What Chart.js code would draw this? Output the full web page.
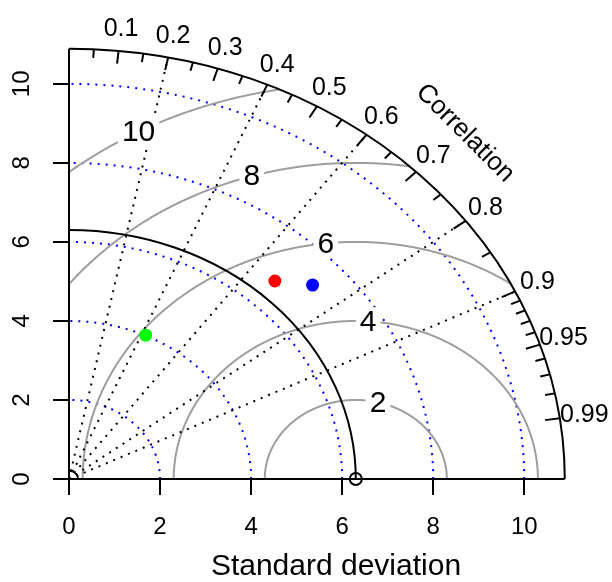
<!DOCTYPE html>
<html>
<head>
<meta charset="utf-8">
<script src="https://cdn.jsdelivr.net/npm/chart.js@4.4.0/dist/chart.umd.min.js"></script>
<style>
  html, body { margin: 0; padding: 0; background: #fff; }
</style>
</head>
<body>
<canvas id="taylor" width="612" height="582"></canvas>
<script>
// models compared against the reference: standard deviation + correlation
const modelSd = [4.01, 6.75, 7.26];
const modelCorr = [0.42, 0.67, 0.737];
const modelColors = ['#00ff00', '#ff0000', '#0000ff'];
const refSd = 6.30;

// axis / grid values
const sdTicks = [0, 2, 4, 6, 8, 10];
const sdArcs = [2, 4, 6, 8, 10];
const rmsLevels = [2, 4, 6, 8, 10];
const corrLabels = [0.1, 0.2, 0.3, 0.4, 0.5, 0.6, 0.7, 0.8, 0.9, 0.95, 0.99];
const corrMinor = [0.05, 0.15, 0.25, 0.35, 0.45, 0.55, 0.65, 0.75, 0.85, 0.91, 0.92, 0.93, 0.94, 0.96, 0.97, 0.98];
const corrLines = [0.2, 0.4, 0.6, 0.8, 0.9];

const maxSd = 1.5 * Math.max(refSd, ...modelSd);
const rmsLabelAngles = [75.9, 86.1, 96.3, 106.6, 118.5]; // degrees around the reference point
const FONT = '"Liberation Sans", Arial, Helvetica, sans-serif';

Chart.defaults.font.family = FONT;
Chart.defaults.color = '#000';

const modelPoints = modelSd.map((sd, i) => ({
  x: sd * modelCorr[i],
  y: sd * Math.sqrt(1 - modelCorr[i] * modelCorr[i])
}));

const taylorGrid = {
  id: 'taylorGrid',
  beforeDatasetsDraw(chart) {
    const { ctx, scales: { x, y } } = chart;
    const px = v => x.getPixelForValue(v);
    const py = v => y.getPixelForValue(v);
    const rx = r => px(r) - px(0);
    const ry = r => py(0) - py(r);
    const polar = (r, c) => [px(r * c), py(r * Math.sqrt(1 - c * c))];

    ctx.save();

    // standard deviation arcs (blue dotted)
    ctx.strokeStyle = '#0000ff';
    ctx.lineWidth = 2;
    ctx.setLineDash([2, 6]);
    sdArcs.forEach(r => {
      ctx.beginPath();
      ctx.ellipse(px(0), py(0), rx(r), ry(r), 0, 0, -Math.PI / 2, true);
      ctx.stroke();
    });

    // centred RMS difference arcs (gray), clipped to the quadrant
    ctx.setLineDash([]);
    ctx.strokeStyle = '#9e9e9e';
    ctx.lineWidth = 2;
    rmsLevels.forEach(r => {
      ctx.beginPath();
      let pen = false;
      for (let a = 0; a <= 180; a += 0.25) {
        const t = a * Math.PI / 180;
        const dx = refSd + r * Math.cos(t), dy = r * Math.sin(t);
        if (dx >= 0 && Math.hypot(dx, dy) <= maxSd) {
          if (pen) ctx.lineTo(px(dx), py(dy)); else ctx.moveTo(px(dx), py(dy));
          pen = true;
        } else pen = false;
      }
      ctx.stroke();
    });

    // correlation rays (black dotted)
    ctx.strokeStyle = '#000';
    ctx.setLineDash([2, 6]);
    corrLines.forEach(c => {
      const [ex, ey] = polar(maxSd, c);
      ctx.beginPath();
      ctx.moveTo(px(0), py(0));
      ctx.lineTo(ex, ey);
      ctx.stroke();
    });
    ctx.setLineDash([]);

    // reference standard deviation arc
    ctx.lineWidth = 2;
    ctx.beginPath();
    ctx.ellipse(px(0), py(0), rx(refSd), ry(refSd), 0, 0, -Math.PI / 2, true);
    ctx.stroke();

    // little arc at the origin
    ctx.lineWidth = 1.5;
    ctx.beginPath();
    ctx.ellipse(px(0), py(0), rx(0.2), ry(0.2), 0, 0, -Math.PI / 2, true);
    ctx.stroke();

    // outer frame
    ctx.lineWidth = 2;
    ctx.beginPath();
    ctx.moveTo(px(0), py(maxSd));
    ctx.lineTo(px(0), py(0));
    ctx.lineTo(px(maxSd), py(0));
    ctx.stroke();
    ctx.beginPath();
    ctx.ellipse(px(0), py(0), rx(maxSd), ry(maxSd), 0, 0, -Math.PI / 2, true);
    ctx.stroke();

    // correlation ticks, pointing inward
    const tick = (c, k) => {
      const [ax, ay] = polar(maxSd, c);
      const [bx, by] = polar(maxSd * k, c);
      ctx.beginPath();
      ctx.moveTo(ax, ay);
      ctx.lineTo(bx, by);
      ctx.stroke();
    };
    corrLabels.forEach(c => tick(c, 0.97));
    corrMinor.forEach(c => tick(c, 0.98));

    // correlation labels
    ctx.fillStyle = '#000';
    ctx.font = '25px ' + FONT;
    ctx.textAlign = 'center';
    ctx.textBaseline = 'middle';
    corrLabels.forEach(c => {
      const [lx, ly] = polar(maxSd * 1.05, c);
      ctx.fillText(String(c), lx, ly);
    });
    ctx.font = '26px ' + FONT;
    const [cx, cy] = polar(maxSd * 1.13, Math.SQRT1_2);
    ctx.save();
    ctx.translate(cx, cy - 2);
    ctx.rotate(Math.PI / 4);
    ctx.fillText('Correlation', 0, 0);
    ctx.restore();

    // RMS labels on white boxes
    ctx.font = '30px ' + FONT;
    rmsLevels.forEach((r, i) => {
      const t = rmsLabelAngles[i] * Math.PI / 180;
      const lx = px(refSd + r * Math.cos(t)), ly = py(r * Math.sin(t));
      const w = ctx.measureText(String(r)).width;
      ctx.fillStyle = '#fff';
      ctx.fillRect(lx - w / 2 - 4, ly - 14, w + 8, 28);
      ctx.fillStyle = '#000';
      ctx.fillText(String(r), lx, ly + 1);
    });

    ctx.restore();
  }
};

const datasets = modelPoints.map((p, i) => ({
  data: [p],
  pointRadius: 6.5,
  pointBackgroundColor: modelColors[i],
  pointBorderColor: modelColors[i],
  pointBorderWidth: 0,
  clip: false
}));
datasets.push({
  data: [{ x: refSd, y: 0 }],
  pointRadius: 6,
  pointBackgroundColor: 'rgba(0,0,0,0)',
  pointBorderColor: '#000',
  pointBorderWidth: 2,
  clip: false
});

// keep the plot box fixed: no extra room asked for tick labels
const noPad = s => {
  s.paddingTop = 0; s.paddingBottom = 0; s.paddingLeft = 0; s.paddingRight = 0;
};

new Chart(document.getElementById('taylor'), {
  type: 'scatter',
  data: { datasets },
  options: {
    responsive: false,
    animation: false,
    layout: { padding: { top: 0, right: 9, bottom: 0, left: 0 } },
    plugins: { legend: { display: false }, tooltip: { enabled: false } },
    scales: {
      x: {
        type: 'linear',
        min: 0,
        max: 11.73,
        afterBuildTicks: s => { s.ticks = sdTicks.map(v => ({ value: v })); },
        afterFit: s => { s.height = 103; noPad(s); },
        border: { display: false },
        grid: { drawOnChartArea: false, drawTicks: true, tickLength: 16, color: '#000', lineWidth: 2 },
        ticks: { font: { size: 24 }, padding: 18, autoSkip: false, maxRotation: 0 },
        title: { display: true, text: 'Standard deviation', font: { size: 30, lineHeight: 1 }, padding: 0 }
      },
      y: {
        type: 'linear',
        min: 0,
        max: 11.92,
        afterBuildTicks: s => { s.ticks = sdTicks.map(v => ({ value: v })); },
        afterFit: s => { s.width = 69; noPad(s); },
        border: { display: false },
        grid: { drawOnChartArea: false, drawTicks: true, tickLength: 16, color: '#000', lineWidth: 2 },
        ticks: { font: { size: 24 }, padding: 17, autoSkip: false, minRotation: 90, maxRotation: 90, crossAlign: 'center' }
      }
    }
  },
  plugins: [taylorGrid]
});
</script>
</body>
</html>
